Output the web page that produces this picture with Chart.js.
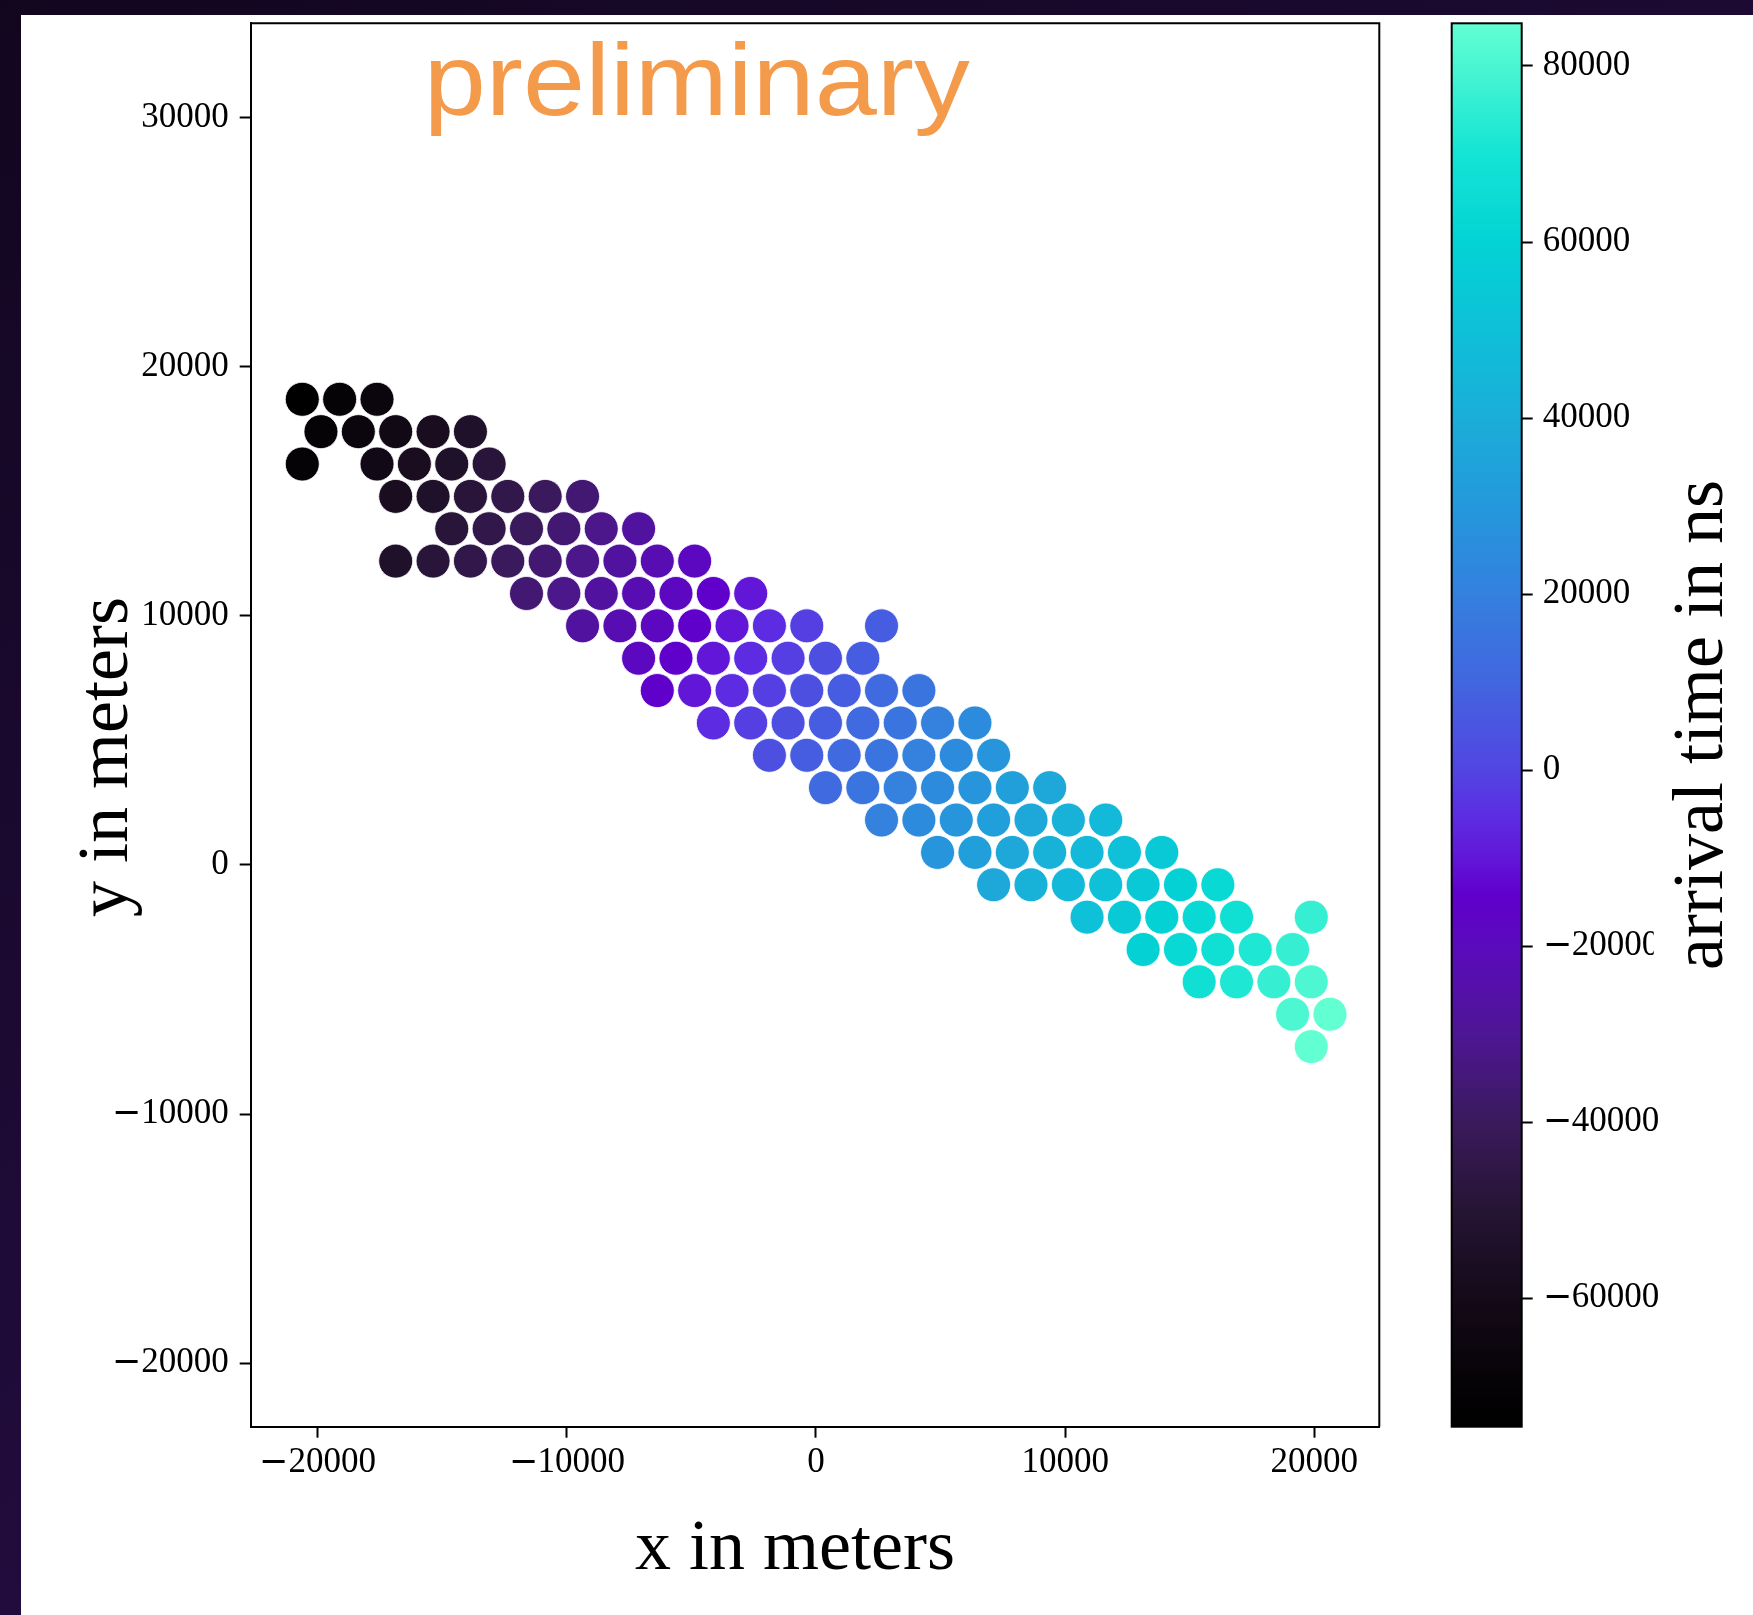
<!DOCTYPE html>
<html>
<head>
<meta charset="utf-8">
<title>arrival times</title>
<script src="https://cdn.jsdelivr.net/npm/chart.js@4.4.1/dist/chart.umd.min.js"></script>
<style>
  /* wide minus sign for negative tick labels, digits stay Times-like */
  @font-face {
    font-family: "TickMinus";
    src: local("DejaVu Serif"), local("DejaVuSerif");
    unicode-range: U+2212;
  }
  html, body { margin: 0; padding: 0; }
  body {
    width: 1753px; height: 1615px; overflow: hidden; position: relative;
    background: linear-gradient(150deg, #12061f 0%, #1f0b38 50%, #2a0e4c 100%);
  }
  #sheet { position: absolute; left: 21px; top: 15px; right: 0; bottom: 0; background: #fff; }
  #plot { position: absolute; left: 0; top: 0; }
</style>
</head>
<body>
<div id="sheet"></div>
<canvas id="plot" width="1753" height="1615"></canvas>
<script>
// station rows of the hexagonal array, north to south (metres)
const stationY = [18690, 17391, 16092, 14793, 13494, 12195, 10896, 9597, 8298, 6999,
  5700, 4401, 3102, 1803, 504, -795, -2094, -3393, -4692, -5991, -7290];

const stationX = [
  [-20620, -19120, -17620],
  [-19870, -18370, -16870, -15370, -13870],
  [-20620, -17620, -16120, -14620, -13120],
  [-16870, -15370, -13870, -12370, -10870, -9370],
  [-14620, -13120, -11620, -10120, -8620, -7120],
  [-16870, -15370, -13870, -12370, -10870, -9370, -7870, -6370, -4870],
  [-11620, -10120, -8620, -7120, -5620, -4120, -2620],
  [-9370, -7870, -6370, -4870, -3370, -1870, -370, 2630],
  [-7120, -5620, -4120, -2620, -1120, 380, 1880],
  [-6370, -4870, -3370, -1870, -370, 1130, 2630, 4130],
  [-4120, -2620, -1120, 380, 1880, 3380, 4880, 6380],
  [-1870, -370, 1130, 2630, 4130, 5630, 7130],
  [380, 1880, 3380, 4880, 6380, 7880, 9380],
  [2630, 4130, 5630, 7130, 8630, 10130, 11630],
  [4880, 6380, 7880, 9380, 10880, 12380, 13880],
  [7130, 8630, 10130, 11630, 13130, 14630, 16130],
  [10880, 12380, 13880, 15380, 16880, 19880],
  [13130, 14630, 16130, 17630, 19130],
  [15380, 16880, 18380, 19880],
  [19130, 20630],
  [19880]
];

// arrival time per station (ns), same layout as stationX
const arrivalNs = [
  [-74600, -70300, -66000],
  [-70300, -66000, -61700, -57400, -53100],
  [-70300, -61700, -57400, -53100, -48700],
  [-57400, -53100, -48700, -44400, -40100, -35800],
  [-48700, -44400, -40100, -35800, -31500, -27200],
  [-53100, -48700, -44400, -40100, -35800, -31500, -27200, -22900, -18600],
  [-35800, -31500, -27200, -22900, -18600, -14300, -9900],
  [-27200, -22900, -18600, -14300, -9900, -5600, -1300, 7300],
  [-18600, -14300, -9900, -5600, -1300, 3000, 7300],
  [-14300, -9900, -5600, -1300, 3000, 7300, 11600, 15900],
  [-5600, -1300, 3000, 7300, 11600, 15900, 20200, 24500],
  [3000, 7300, 11600, 15900, 20200, 24500, 28800],
  [11600, 15900, 20200, 24500, 28800, 33200, 37500],
  [20200, 24500, 28800, 33200, 37500, 41800, 46100],
  [28800, 33200, 37500, 41800, 46100, 50400, 54700],
  [37500, 41800, 46100, 50400, 54700, 59000, 63300],
  [50400, 54700, 59000, 63300, 67600, 76300],
  [59000, 63300, 67600, 71900, 76300],
  [67600, 71900, 76300, 80600],
  [80600, 84850],
  [84850]
];

const xTickValues = [-20000, -10000, 0, 10000, 20000];
const yTickValues = [-20000, -10000, 0, 10000, 20000, 30000];
const cbTickValues = [-60000, -40000, -20000, 0, 20000, 40000, 60000, 80000];
const xLimits = [-22690, 22610];
const yLimits = [-22545, 33780];

// colour map: position in [0, 1] -> colour
const cmapStops = [
  [0.000, '#000000'], [0.029, '#050305'], [0.092, '#140a18'], [0.154, '#261434'],
  [0.217, '#3a1a5c'], [0.280, '#4e1694'], [0.342, '#5a0abc'], [0.380, '#6000cc'],
  [0.405, '#6216d8'], [0.437, '#5c2ee2'], [0.468, '#5245e2'], [0.531, '#4266e0'],
  [0.593, '#3480de'], [0.656, '#2498dc'], [0.719, '#1aaed8'], [0.782, '#0ec0d8'],
  [0.844, '#03d3d4'], [0.907, '#14e4d4'], [0.970, '#4af6d2'], [1.000, '#62ffd2']
];

const allTimes = arrivalNs.flat();
const tMin = Math.min(...allTimes);
const tMax = Math.max(...allTimes);

function hexToRgb(h) {
  const n = parseInt(h.slice(1), 16);
  return [(n >> 16) & 255, (n >> 8) & 255, n & 255];
}

function cmap(f) {
  f = Math.min(1, Math.max(0, f));
  for (let i = 1; i < cmapStops.length; i++) {
    const [p1, c1] = cmapStops[i];
    if (f <= p1) {
      const [p0, c0] = cmapStops[i - 1];
      const t = (f - p0) / (p1 - p0);
      const a = hexToRgb(c0), b = hexToRgb(c1);
      return 'rgb(' + a.map((v, k) => Math.round(v + (b[k] - v) * t)).join(',') + ')';
    }
  }
  return cmapStops[cmapStops.length - 1][1];
}

const points = [];
const colors = [];
stationX.forEach((row, r) => {
  row.forEach((x, i) => {
    points.push({ x: x, y: stationY[r] });
    colors.push(cmap((arrivalNs[r][i] - tMin) / (tMax - tMin)));
  });
});

function fmt(v) {
  return v < 0 ? '\u2212' + Math.abs(v) : String(v);
}

const serif = '"Liberation Serif", "Times New Roman", serif';
Chart.defaults.font.family = '"TickMinus", ' + serif;
Chart.defaults.font.size = 35;
Chart.defaults.color = '#000';

const tickGrid = { display: true, drawOnChartArea: false, drawTicks: true, tickLength: 11, tickWidth: 2, tickColor: '#000' };

function rotatedLabel(ctx, text, cx, cy, font) {
  ctx.save();
  ctx.translate(cx, cy);
  ctx.rotate(-Math.PI / 2);
  ctx.font = font;
  ctx.textAlign = 'center';
  ctx.textBaseline = 'middle';
  ctx.fillStyle = '#000';
  ctx.fillText(text, 0, 0);
  ctx.restore();
}

const decor = {
  id: 'decor',
  afterDraw(chart) {
    const { ctx, chartArea: a, scales } = chart;
    const cb = scales.cb;
    const titleFont = '72px ' + serif;
    ctx.save();

    // top and right edges of the frame
    ctx.strokeStyle = '#000';
    ctx.lineWidth = 2;
    ctx.beginPath();
    ctx.moveTo(a.left, a.top);
    ctx.lineTo(a.right, a.top);
    ctx.lineTo(a.right, a.bottom);
    ctx.stroke();

    // colour bar, stretched over the cb scale
    const barW = 70;
    const yLo = cb.getPixelForValue(tMin);
    const yHi = cb.getPixelForValue(tMax);
    const grad = ctx.createLinearGradient(0, yLo, 0, yHi);
    cmapStops.forEach(([p, c]) => grad.addColorStop(p, c));
    ctx.fillStyle = grad;
    ctx.fillRect(cb.left - barW, yHi, barW, yLo - yHi);
    ctx.strokeRect(cb.left - barW, yHi, barW, yLo - yHi);

    // colour bar label sits on a white box that trims the long tick label
    const cbx = cb.left + 181;
    const cby = (yHi + yLo) / 2;
    ctx.font = titleFont;
    const w = ctx.measureText('arrival time in ns').width;
    ctx.fillStyle = '#fff';
    ctx.fillRect(cbx - 49, cby - w / 2 - 4, chart.width - cbx + 49, w + 8);
    rotatedLabel(ctx, 'arrival time in ns', cbx, cby, titleFont);

    // axis titles
    ctx.font = titleFont;
    ctx.fillStyle = '#000';
    ctx.textAlign = 'center';
    ctx.textBaseline = 'alphabetic';
    ctx.fillText('x in meters', (a.left + a.right) / 2 - 20, a.bottom + 142);
    rotatedLabel(ctx, 'y in meters', 108, (a.top + a.bottom) / 2 + 32, titleFont);

    // watermark
    ctx.save();
    ctx.translate(a.left + 173, a.top + 92);
    ctx.scale(1.095, 1);
    ctx.font = '102px "Liberation Sans", Arial, sans-serif';
    ctx.fillStyle = '#f49a4b';
    ctx.textAlign = 'left';
    ctx.textBaseline = 'alphabetic';
    ctx.fillText('preliminary', 0, 0);
    ctx.restore();

    ctx.restore();
  }
};

const chart = new Chart(document.getElementById('plot'), {
  type: 'scatter',
  data: {
    datasets: [{
      data: points,
      pointBackgroundColor: colors,
      pointBorderColor: '#ffffff',
      pointBorderWidth: 0.8,
      pointRadius: 17,
      pointHoverRadius: 17
    }]
  },
  options: {
    responsive: false,
    maintainAspectRatio: false,
    animation: false,
    events: [],
    layout: { padding: { top: 23.3, left: 0, right: 0, bottom: 0 } },
    plugins: { legend: { display: false }, tooltip: { enabled: false } },
    scales: {
      x: {
        type: 'linear',
        position: 'bottom',
        min: xLimits[0],
        max: xLimits[1],
        afterBuildTicks: s => { s.ticks = xTickValues.map(v => ({ value: v })); },
        ticks: { padding: 4, maxRotation: 0, autoSkip: false, callback: fmt },
        grid: tickGrid,
        border: { display: true, color: '#000', width: 2 },
        afterFit: s => { s.height = 188.3; s.paddingLeft = 0; s.paddingRight = 0; }
      },
      y: {
        type: 'linear',
        position: 'left',
        min: yLimits[0],
        max: yLimits[1],
        afterBuildTicks: s => { s.ticks = yTickValues.map(v => ({ value: v })); },
        ticks: { padding: 11, autoSkip: false, callback: fmt },
        grid: tickGrid,
        border: { display: true, color: '#000', width: 2 },
        afterFit: s => { s.width = 250.7; s.paddingTop = 0; s.paddingBottom = 0; }
      },
      gap: {
        type: 'linear',
        position: 'right',
        weight: 1,
        display: true,
        ticks: { display: false },
        grid: { display: false },
        border: { display: false },
        afterFit: s => { s.width = 142.4; s.paddingTop = 0; s.paddingBottom = 0; }
      },
      cb: {
        type: 'linear',
        position: 'right',
        weight: 2,
        min: tMin,
        max: tMax,
        afterBuildTicks: s => { s.ticks = cbTickValues.map(v => ({ value: v })); },
        ticks: { padding: 10, autoSkip: false, callback: fmt },
        grid: tickGrid,
        border: { display: false },
        afterFit: s => { s.width = 231.3; s.paddingTop = 0; s.paddingBottom = 0; }
      }
    }
  },
  plugins: [decor]
});

// redraw once the minus-sign face is available
document.fonts.load('35px "TickMinus"', '\u2212').then(() => chart.update());
</script>
</body>
</html>
